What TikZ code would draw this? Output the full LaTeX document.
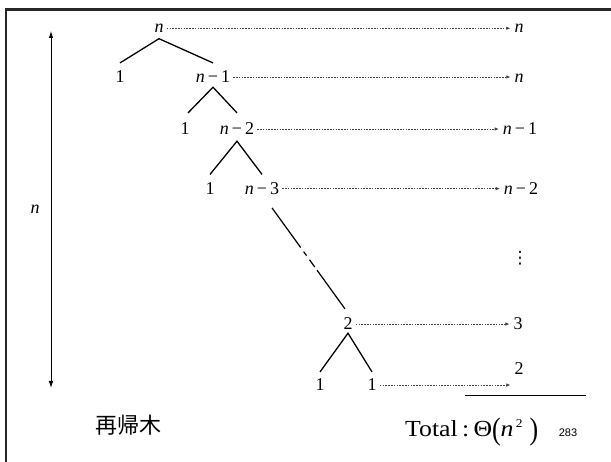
\documentclass[tikz,border=0pt]{standalone}
\usepackage{fontspec}
\setmainfont{Liberation Serif}
\newfontfamily\cjkfont{Noto Sans CJK JP}
\newfontfamily\slidefont{Liberation Sans}
\newfontfamily\symfont{DejaVu Sans}
\usepackage{graphicx}
\usetikzlibrary{arrows.meta}
\tikzstyle{txt} = [inner sep=0pt, font=\fontsize{18}{18}\selectfont]
\tikzstyle{lbl} = [txt, anchor=base]
\tikzstyle{edge} = [draw, line width=1.3pt, line join=miter]
\tikzstyle{cost} = [draw, line width=0.6pt, black!75, dash pattern=on 1.6pt off 1.2pt,
-{Latex[length=4pt,width=3.5pt]}, shorten <=3pt, shorten >=4pt]
\tikzstyle{vline} = [draw, line width=0.8pt,
{Latex[length=7pt,width=4.5pt]}-{Latex[length=7pt,width=4.5pt]}]
\newcommand{\nminus}[1]{\textit{n}\,−\,#1}

\begin{document}
\begin{tikzpicture}[x=1pt, y=-1pt]

% Frame
\useasboundingbox (0,0) rectangle (611,462);
\draw [line width=2.7pt, black!85] (6,470) -- (6,9.3) -- (620,9.3);

% Tree nodes
\node [lbl] (n0) at (159,32.5) {\textit{n}};
\node [lbl] (l1) at (120,83) {1};
\node [lbl] (n1) at (213,83) {\nminus{1}};
\node [lbl] (l2) at (185,135) {1};
\node [lbl] (n2) at (237,135) {\nminus{2}};
\node [lbl] (l3) at (210,194.5) {1};
\node [lbl] (n3) at (262,194.5) {\nminus{3}};
\node [lbl] (t2) at (348,330) {2};
\node [lbl] (la) at (320,391) {1};
\node [lbl] (lb) at (372,391) {1};

% Cost per level
\node [lbl] (c0) at (519,32.5) {\textit{n}};
\node [lbl] (c1) at (519,83) {\textit{n}};
\node [lbl] (c2) at (520,135) {\nminus{1}};
\node [lbl] (c3) at (521,194.5) {\nminus{2}};
\node [txt, font=\symfont\fontsize{17}{17}\selectfont] (cd) at (520,258) {⋮};
\node [lbl] (c4) at (518,330) {3};
\node [lbl] (c5) at (519,375) {2};

% Tree edges
\path [edge] ([yshift=8pt]l1.north) -- ([yshift=-6pt]n0.south) -- ([yshift=8pt]n1.north);
\path [edge] ([xshift=3pt,yshift=10pt]l2.north) -- ([yshift=-4pt]n1.south) -- ([yshift=10pt]n2.north);
\path [edge] ([yshift=8pt]l3.north) -- ([yshift=-6pt]n2.south) -- ([yshift=8pt]n3.north);
\path [edge] ([yshift=7pt]la.north) -- ([yshift=-3pt]t2.south) -- ([yshift=7pt]lb.north);
\path [edge, line width=1.2pt, dash pattern=on 49pt off 5pt on 5pt off 5pt on 9pt off 4pt on 80pt]
([xshift=10pt,yshift=-13pt]n3.south) -- ([xshift=-3pt,yshift=9pt]t2.north);

% Dotted arrows
\path [cost] (n0.east) -- (n0.east -| c0.west);
\path [cost] (n1.east) -- (n1.east -| c1.west);
\path [cost] (n2.east) -- (n2.east -| c2.west);
\path [cost] (n3.east) -- (n3.east -| c3.west);
\path [cost] (t2.east) -- (t2.east -| c4.west);
\path [cost] (lb.east) -- (lb.east -| c5.west);

% Height
\coordinate (vtop) at (51,31);
\coordinate (vbot) at (51,388);
\path [vline] (vtop) -- node [txt, left=11pt] (hn) {\textit{n}} (vbot);

% Bottom texts
\node [txt, font=\cjkfont\fontsize{22}{22}\selectfont] (title) at (128,425) {再帰木};
\coordinate (sumL) at (465,396);
\coordinate (sumR) at (586,396);
\draw [line width=1pt] (sumL) -- (sumR);
\node [lbl, anchor=base west, font=\fontsize{23}{23}\selectfont] (total) at (405,437)
{\scalebox{1.12}[1]{Total\,:\,Θ\raisebox{-0.1em}{\scalebox{1}[1.35]{(}}\textit{n}\raisebox{0.42em}{\fontsize{12}{12}\selectfont\,2}\;\raisebox{-0.1em}{\scalebox{1}[1.35]{)}}}};
\node [lbl, font=\slidefont\fontsize{11}{11}\selectfont] (page) at (568,437) {283};

\end{tikzpicture}
\end{document}
